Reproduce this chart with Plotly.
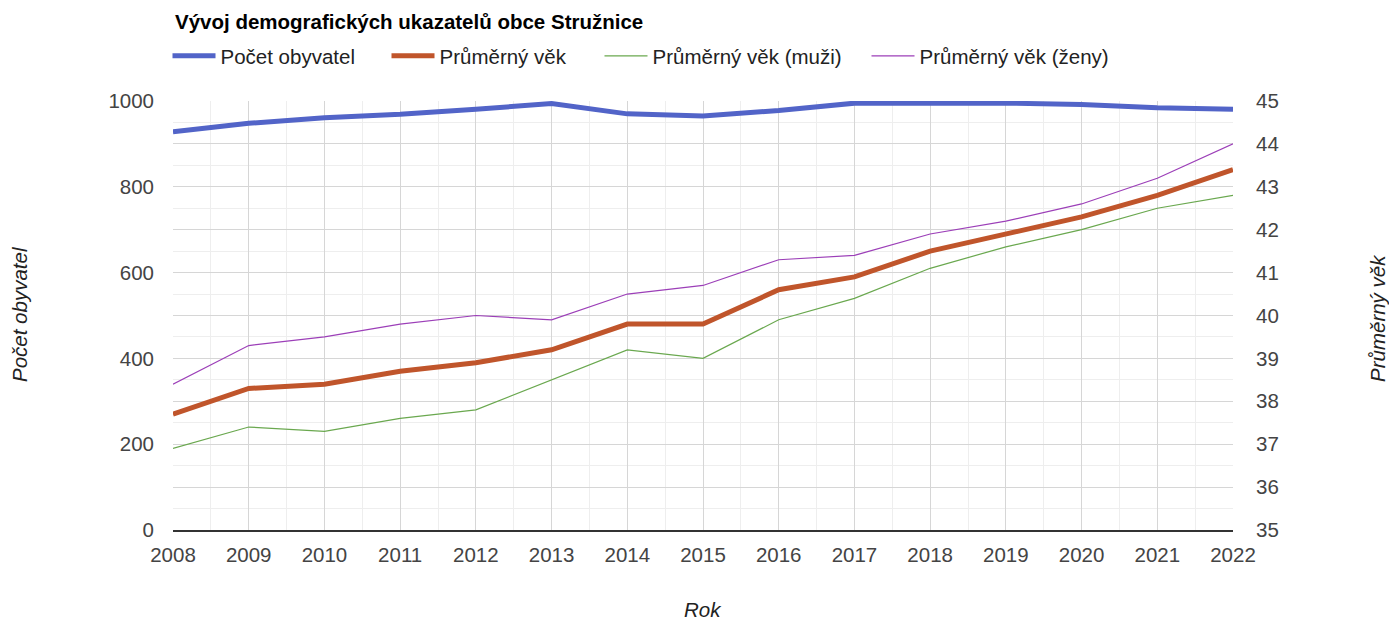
import plotly.graph_objects as go

years = list(range(2008, 2023))
pocet_obyvatel = [928, 948, 961, 969, 981, 994, 970, 965, 978, 995, 995, 995, 992, 984, 981]
prumerny_vek = [37.7, 38.3, 38.4, 38.7, 38.9, 39.2, 39.8, 39.8, 40.6, 40.9, 41.5, 41.9, 42.3, 42.8, 43.4]
vek_muzi = [36.9, 37.4, 37.3, 37.6, 37.8, 38.5, 39.2, 39.0, 39.9, 40.4, 41.1, 41.6, 42.0, 42.5, 42.8]
vek_zeny = [38.4, 39.3, 39.5, 39.8, 40.0, 39.9, 40.5, 40.7, 41.3, 41.4, 41.9, 42.2, 42.6, 43.2, 44.0]

FONT = "Arial, Liberation Sans, sans-serif"
FS = 20.5
W, H = 1389, 620
L, R, T, B = 173, 156, 101, 90
PW, PH = W - L - R, H - T - B

def px_x(x):
    return (x - L) / PW

def px_y(y):
    return (H - B - y) / PH

fig = go.Figure()
fig.add_trace(go.Scatter(x=years, y=pocet_obyvatel, name="Počet obyvatel", mode="lines",
                         line=dict(color="#5264c8", width=5), yaxis="y", legend="legend"))
fig.add_trace(go.Scatter(x=years, y=prumerny_vek, name="Průměrný věk", mode="lines",
                         line=dict(color="#c0552b", width=5), yaxis="y2", legend="legend2"))
fig.add_trace(go.Scatter(x=years, y=vek_muzi, name="Průměrný věk (muži)", mode="lines",
                         line=dict(color="#6aa84f", width=1.2), yaxis="y2", legend="legend3"))
fig.add_trace(go.Scatter(x=years, y=vek_zeny, name="Průměrný věk (ženy)", mode="lines",
                         line=dict(color="#9c3fb8", width=1.2), yaxis="y2", legend="legend4"))

def leg(xpix):
    return dict(orientation="h", x=px_x(xpix), xanchor="left", y=px_y(56), yanchor="middle",
                font=dict(size=FS, color="#222", family=FONT), itemwidth=43,
                bgcolor="rgba(0,0,0,0)")

fig.update_layout(
    width=W, height=H,
    margin=dict(l=L, r=R, t=T, b=B),
    plot_bgcolor="white", paper_bgcolor="white",
    font=dict(family=FONT, size=FS, color="#444"),
    showlegend=True,
    legend=leg(167.5), legend2=leg(386.5), legend3=leg(599.5), legend4=leg(866.5),
    xaxis=dict(range=[2008, 2022], tickmode="linear", dtick=1, tick0=2008,
               showgrid=True, gridcolor="#d6d6d6", gridwidth=1,
               minor=dict(dtick=0.5, tick0=2008, showgrid=True, gridcolor="#eeeeee", gridwidth=1),
               showline=True, linecolor="#333", linewidth=1.5,
               zeroline=False, ticks="", tickfont=dict(size=FS, color="#444"), ticklabelstandoff=6),
    yaxis=dict(range=[0, 1000], tickvals=[0, 200, 400, 600, 800, 1000],
               showgrid=False, zeroline=False, showline=False, ticks="",
               tickfont=dict(size=FS, color="#444"), ticklabelstandoff=18),
    yaxis2=dict(range=[35, 45], overlaying="y", side="right", tickmode="linear", dtick=1, tick0=35,
                showgrid=True, gridcolor="#d6d6d6", gridwidth=1,
                minor=dict(dtick=0.5, tick0=35, showgrid=True, gridcolor="#eeeeee", gridwidth=1),
                zeroline=False, showline=False, ticks="",
                tickfont=dict(size=FS, color="#444"), ticklabelstandoff=22),
)

fig.add_annotation(text="<b>Vývoj demografických ukazatelů obce Stružnice</b>", xref="paper", yref="paper",
                   x=0, y=px_y(21), xanchor="left", yanchor="middle", showarrow=False,
                   font=dict(size=FS, color="#000", family=FONT))
fig.add_annotation(text="<i>Počet obyvatel</i>", xref="paper", yref="paper",
                   x=px_x(19), y=px_y(314), xanchor="center", yanchor="middle", textangle=-90,
                   showarrow=False, font=dict(size=FS, color="#222"))
fig.add_annotation(text="<i>Průměrný věk</i>", xref="paper", yref="paper",
                   x=px_x(1377), y=px_y(318), xanchor="center", yanchor="middle", textangle=-90,
                   showarrow=False, font=dict(size=FS, color="#222"))
fig.add_annotation(text="<i>Rok</i>", xref="paper", yref="paper",
                   x=0.5, y=px_y(609), xanchor="center", yanchor="middle",
                   showarrow=False, font=dict(size=FS, color="#222"))

fig.write_html("out.html", config={"displayModeBar": False},
               post_script="document.body.style.margin='0';document.body.style.overflow='hidden';")
